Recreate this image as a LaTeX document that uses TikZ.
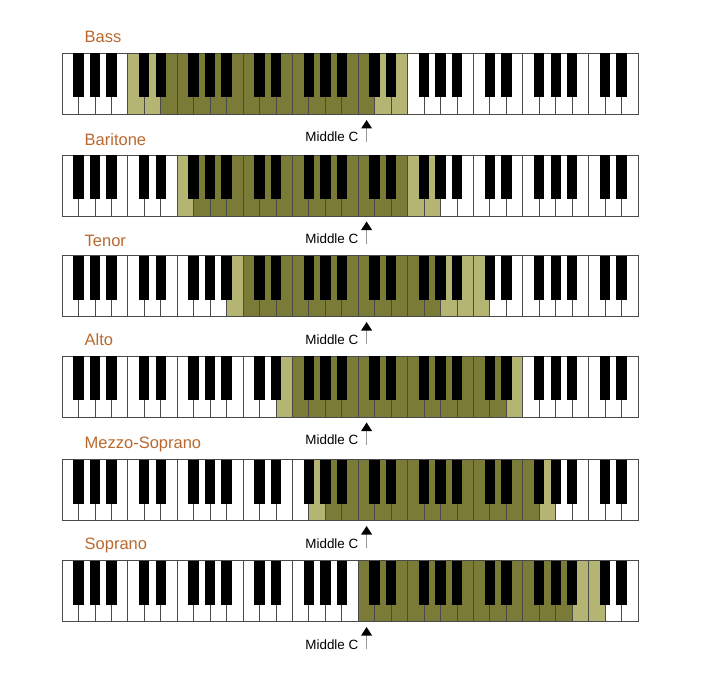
\documentclass[tikz,border=0pt]{standalone}
\usepackage{fontspec}
\setmainfont{Liberation Sans}
\definecolor{darkol}{HTML}{7A7B36}
\definecolor{lightol}{HTML}{B4B572}
\definecolor{lblcol}{HTML}{B9692F}
\definecolor{keyline}{HTML}{4A4A4A}
\tikzset{
  whitekey/.style={draw=keyline, line width=0.8pt, fill=white},
  darkkey/.style={whitekey, fill=darkol},
  lightkey/.style={whitekey, fill=lightol},
  blackkey/.style={fill=black},
  voicelabel/.style={anchor=base west, inner sep=0pt, text=lblcol, font=\fontsize{16.5}{18}\selectfont},
  mclabel/.style={anchor=base east, inner sep=0pt, text=black, font=\fontsize{13.4}{15}\selectfont},
  mcstem/.style={draw=gray!80, line width=0.9pt},
  mchead/.style={fill=black},
}
\newcommand\KW{16.457}
% #1 name, #2 top y, #3 light list, #4 dark from, #5 dark to, #6 label, #7 label baseline
\newcommand\drawkeyboard[7]{%
  \foreach \i in {0,...,34} {\draw[whitekey] ({62+\i*\KW},#2) rectangle ++(\KW,61);}
  \foreach \i in {#3} {\draw[lightkey] ({62+\i*\KW},#2) rectangle ++(\KW,61);}
  \foreach \i in {#4,...,#5} {\draw[darkkey] ({62+\i*\KW},#2) rectangle ++(\KW,61);}
  \foreach \i in {0,...,33} {%
    \pgfmathtruncatemacro\m{mod(\i,7)}%
    \ifnum\m=3\relax\else\ifnum\m=6\relax\else
      \fill[blackkey] ({62+(\i+1)*\KW-5.2},#2) rectangle ++(10.4,44);
    \fi\fi}
  \node[voicelabel] (#1) at (84.5,#7) {#6};
  \node[mclabel] (#1mc) at (358.5,#2+88.5) {Middle C};
  \coordinate (#1tip) at (366.6,#2+66.5);
  \coordinate (#1foot) at (366.6,#2+88.5);
  \draw[mcstem] (#1foot) -- ([yshift=-7pt]#1tip);
  \fill[mchead] (#1tip) -- ++(-5.5,8.5) -- ++(11,0) -- cycle;
}
\begin{document}
\begin{tikzpicture}[x=1pt,y=-1pt]
  \useasboundingbox[fill=white] (0,0) rectangle (728,695);
  \drawkeyboard{bass}{53.5}{4,5,19,20}{6}{18}{Bass}{42.7}
  \drawkeyboard{baritone}{155}{7,21,22}{8}{20}{Baritone}{145.5}
  \drawkeyboard{tenor}{255.5}{10,23,24,25}{11}{22}{Tenor}{246}
  \drawkeyboard{alto}{356}{13,27}{14}{26}{Alto}{345}
  \drawkeyboard{mezzo}{459.5}{15,29}{16}{28}{Mezzo-Soprano}{448}
  \drawkeyboard{soprano}{560.5}{31,32}{18}{30}{Soprano}{549}
\end{tikzpicture}
\end{document}
